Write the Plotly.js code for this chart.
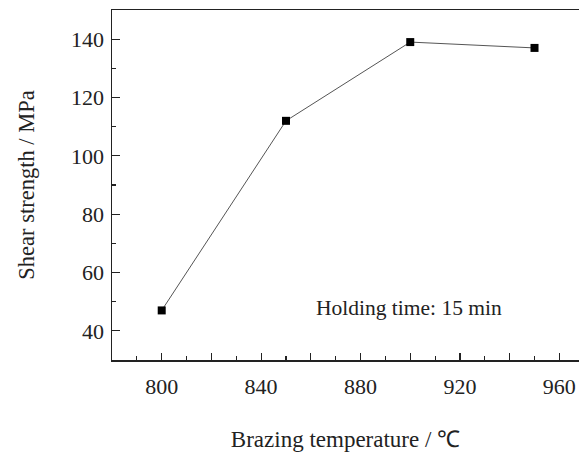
<!DOCTYPE html>
<html>
<head>
<meta charset="utf-8">
<script src="https://cdn.plot.ly/plotly-3.0.1.min.js"></script>
<style>html,body{margin:0;padding:0;background:#fff;}#chart{width:579px;height:454px;}</style>
</head>
<body>
<div id="chart"></div>
<script>
var temperature = [800, 850, 900, 950];
var shearStrength = [47, 112, 139, 137];
var xTickVals = [780, 800, 820, 840, 860, 880, 900, 920, 940, 960];
var xTickText = ['', '800', '', '840', '', '880', '', '920', '', '960'];
var yTickVals = [40, 60, 80, 100, 120, 140];
var yTickText = ['40', '60', '80', '100', '120', '140'];
var noteText = 'Holding time: 15 min';

var font = 'Liberation Serif, Times New Roman, serif';
var axisColor = '#222';

var trace = {
  x: temperature, y: shearStrength,
  mode: 'lines+markers', type: 'scatter',
  line: {color: '#555', width: 1},
  marker: {symbol: 'square', size: 8, color: '#000'},
  hoverinfo: 'none'
};

var layout = {
  width: 579, height: 454,
  margin: {l: 112, r: 0, t: 10, b: 94},
  paper_bgcolor: '#fff', plot_bgcolor: '#fff',
  showlegend: false,
  font: {family: font, color: '#222', size: 20},
  xaxis: {
    range: [780, 967.9], showgrid: false, zeroline: false,
    showline: true, linecolor: axisColor, linewidth: 1.5, mirror: true,
    ticks: 'inside', ticklen: 7, tickwidth: 1.2, tickcolor: axisColor,
    tickmode: 'array', tickvals: xTickVals, ticktext: xTickText,
    ticklabelstandoff: 6,
    tickfont: {family: font, size: 22, color: '#222'},
    minor: {dtick: 10, tick0: 780, ticks: 'inside', ticklen: 4, tickwidth: 1.2, tickcolor: axisColor},
    title: {text: 'Brazing temperature / ℃', font: {family: font, size: 23, color: '#222'}, standoff: 33}
  },
  yaxis: {
    range: [30, 150], showgrid: false, zeroline: false,
    showline: true, linecolor: axisColor, linewidth: 1.5, mirror: false,
    ticks: 'inside', ticklen: 8, tickwidth: 1.2, tickcolor: axisColor,
    tickmode: 'array', tickvals: yTickVals, ticktext: yTickText,
    ticklabelstandoff: 2,
    tickfont: {family: font, size: 22, color: '#222'},
    minor: {dtick: 10, tick0: 30, ticks: 'inside', ticklen: 4, tickwidth: 1.2, tickcolor: axisColor},
    title: {text: 'Shear strength / MPa', font: {family: font, size: 22.5, color: '#222'}, standoff: 30}
  },
  annotations: [{
    text: noteText, xref: 'x', yref: 'y', x: 899.3, y: 47.7,
    showarrow: false, xanchor: 'center', yanchor: 'middle',
    font: {family: font, size: 21.5, color: '#222'}
  }]
};

Plotly.newPlot('chart', [trace], layout, {staticPlot: true, displayModeBar: false});
</script>
</body>
</html>
